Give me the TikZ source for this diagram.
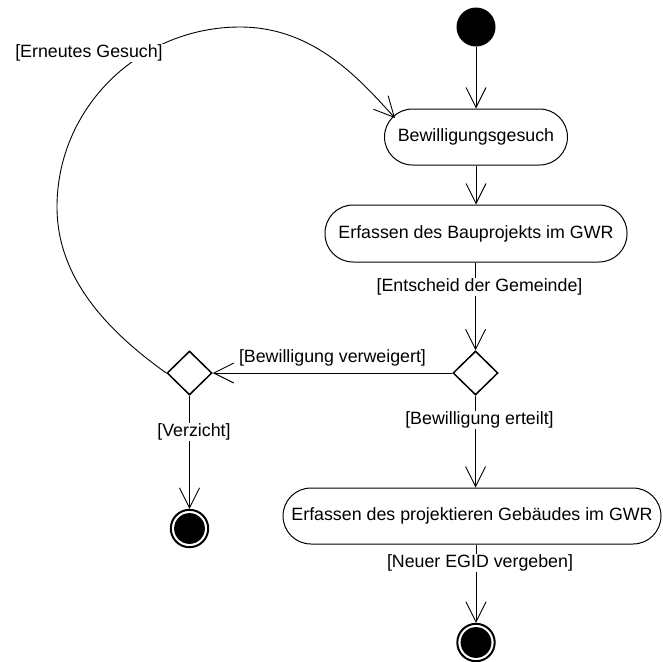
\documentclass[tikz,border=0pt]{standalone}
\usepackage{fontspec}
\setmainfont{Liberation Sans}
\usetikzlibrary{arrows.meta,shapes.geometric}
\begin{document}
\begin{tikzpicture}[x=1pt,y=-1pt,
  every node/.style={font=\fontsize{17.8}{21}\selectfont},
  act/.style={draw, line width=1pt, rounded corners=28pt, minimum height=56pt, inner sep=0pt},
  dec/.style={draw, diamond, line width=1.5pt, minimum width=45pt, minimum height=44pt, inner sep=0pt},
  startnode/.style={circle, fill=black, minimum size=39pt, inner sep=0pt},
  endnode/.style={circle, draw, line width=2pt, fill=white, minimum size=37.4pt, inner sep=0pt,
    path picture={\fill[black] (path picture bounding box.center) circle (15.4pt);}},
  flow/.style={line width=0.9pt, -{Straight Barb[length=20pt,width=20pt]}},
  guard/.style={fill=white, inner sep=1pt}]
\useasboundingbox (0,0) rectangle (662,662);

\node[startnode] (start) at (476,27) {};
\node[act, minimum width=183pt] (b1) at (476,137) {Bewilligungsgesuch};
\node[act, minimum width=302pt, minimum height=57pt] (b2) at (476,233.5) {Erfassen des Bauprojekts im GWR};
\node[dec] (d1) at (475.5,373) {};
\node[dec] (d2) at (189.5,373) {};
\node[act, minimum width=378pt] (b3) at (472,516) {Erfassen des projektieren Gebäudes im GWR};
\node[endnode] (e1) at (189.5,528.5) {};
\node[endnode] (e2) at (476,642.5) {};
\coordinate (b1in) at (395,118);

\draw[flow] (start) -- (b1);
\draw[flow] (b1) -- (b2);
\draw[flow] (b2.south -| d1.north) -- (d1.north);
\draw[flow] (d1.west) -- node[pos=0.5, yshift=15pt, inner sep=0pt] (l2) {[Bewilligung verweigert]} (d2.east);
\draw[flow] (d1.south) -- (d1.south |- b3.north);
\draw[flow] (b3.south -| e2.north) -- (e2.north);
\draw[flow] (d2.south) -- (e1.north);
\draw[flow] (d2.west) .. controls (106,330) and (57,277) .. (57,207)
  .. controls (57,107) and (140,27) .. (240,27)
  .. controls (315,27) and (361,81) .. (b1in);

\node[guard] (l1) at (479.5,287) {[Entscheid der Gemeinde]};
\node[guard] (l3) at (479.5,420) {[Bewilligung erteilt]};
\node[guard] (l4) at (480,563) {[Neuer EGID vergeben]};
\node[guard] (l6) at (194,432) {[Verzicht]};
\node[guard] (l5) at (89,53) {[Erneutes Gesuch]};
\end{tikzpicture}
\end{document}
